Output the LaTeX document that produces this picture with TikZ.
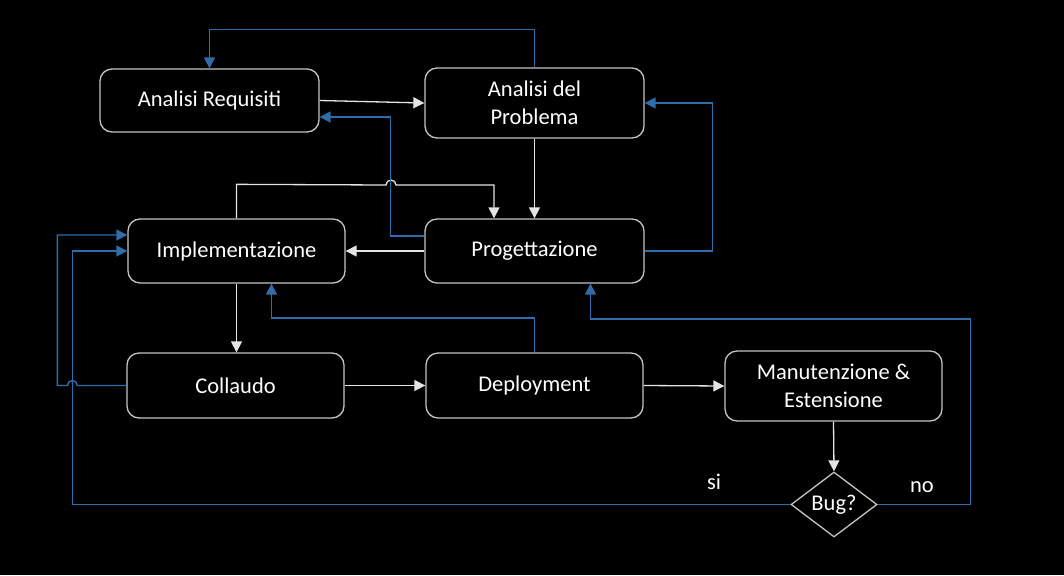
\documentclass[tikz,border=0pt]{standalone}
\usepackage{fontspec}
\setmainfont{Carlito}
\usetikzlibrary{arrows.meta,shapes.geometric,calc}
\definecolor{bl}{HTML}{2E6DAA}
\definecolor{bx}{HTML}{C4C4C4}
\definecolor{wc}{HTML}{E4E4E4}
\begin{document}
\begin{tikzpicture}[x=1pt,y=-1pt,
  txt/.style={text=white,font=\fontsize{22.5}{27.5}\selectfont},
  box/.style={txt,draw=bx,line width=1.3pt,rounded corners=12pt,align=center,inner sep=0pt},
  dia/.style={txt,draw=bx,line width=1.3pt,diamond,aspect=1.32,inner sep=0pt,minimum width=86pt,minimum height=65pt},
  wline/.style={draw=wc,line width=1.3pt,-{Triangle[length=11pt,width=11pt]}},
  bline/.style={draw=bl,line width=1.4pt,-{Triangle[length=11pt,width=11pt]}}]
\fill[black] (0,0) rectangle (1064,575);
\useasboundingbox (0,0) rectangle (1064,575);
\node[box,minimum width=219pt,minimum height=63pt] (ar) at (209.5,100.5) {Analisi Requisiti};
\node[box,minimum width=219pt,minimum height=70pt] (ap) at (534.5,103) {Analisi del\\Problema};
\node[box,minimum width=217pt,minimum height=64pt] (impl) at (236.5,251) {Implementazione};
\node[box,minimum width=219pt,minimum height=64pt] (prog) at (534.5,251) {Progettazione};
\node[box,minimum width=217pt,minimum height=65pt] (coll) at (235.5,385.5) {Collaudo};
\node[box,minimum width=217pt,minimum height=65pt] (depl) at (534.5,385.5) {Deployment};
\node[box,minimum width=217pt,minimum height=70pt] (man) at (833.5,386) {Manutenzione \&\\Estensione};
\node[dia] (bug) at (834,504.5) {Bug?};
\node[txt] (si) at (714,482) {si};
\node[txt] (no) at (922,487) {no};
% white connectors
\draw[wline] (ar.east) -- (ap.west);
\draw[wline] (ap.south) -- (prog.north);
\coordinate (c5) at (494,185);
\draw[wline] (impl.north) -- ++(0,-34) -- (386,185) arc[start angle=180,end angle=360,radius=5] -- (c5) -- (c5 |- prog.north);
\draw[wline] (prog.west) -- (impl.east);
\draw[wline] (impl.south) -- (impl.south |- coll.north);
\draw[wline] (coll.east) -- (depl.west);
\draw[wline] (depl.east) -- (man.west);
\draw[wline] (man.south) -- (bug.north);
% blue connectors
\draw[bline] (ap.north) -- ++(0,-38) -| (ar.north);
\draw[bline] ($(prog.west)+(0,-15)$) -- ++(-34,0) |- ($(ar.east)+(0,16.5)$);
\draw[bline] (prog.east) -- ++(68,0) |- (ap.east);
\draw[bline] (coll.west) -- ++(-49,0) arc[start angle=0,end angle=-180,radius=5] -- ++(-10,0) |- ($(impl.west)+(0,-16)$);
\draw[bline] (bug.west) -- ++(-718,0) |- (impl.west);
\draw[bline] (depl.north) -- ++(0,-34.5) -| ($(impl.south)+(35,0)$);
\draw[bline] (bug.east) -- ++(93,0) -- ++(0,-185.5) -| ($(prog.south)+(56,0)$);
\end{tikzpicture}
\end{document}
